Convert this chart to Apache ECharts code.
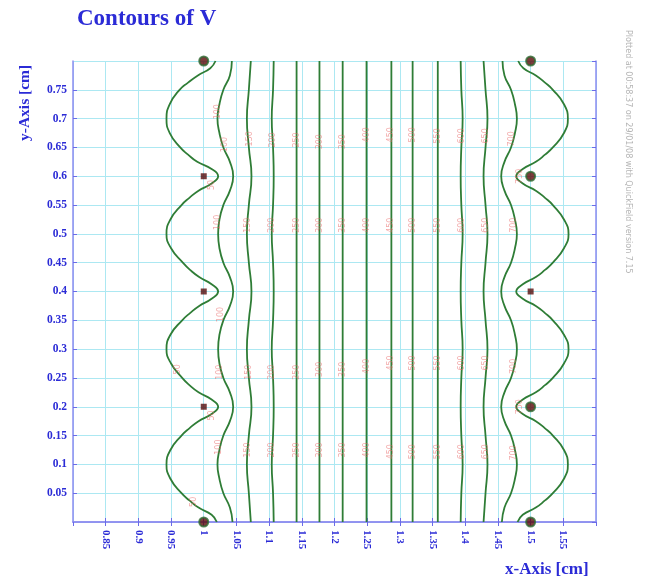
<!DOCTYPE html>
<html>
<head>
<meta charset="utf-8">
<script src="https://cdn.jsdelivr.net/npm/echarts@6/dist/echarts.min.js"></script>
<style>
  html, body { margin: 0; padding: 0; background: #ffffff; }
  #chart { width: 646px; height: 581px; }
</style>
</head>
<body>
<div id="chart"></div>
<script>
// Potential levels of the contour lines, left to right
const contourLevels = [50, 100, 150, 200, 250, 300, 350, 400, 450, 500, 550, 600, 650, 700, 750];

// Sample heights (cm) for the strongly curved outer contours
const yOuter = [
  0, 0.0125, 0.025, 0.0375, 0.05, 0.075, 0.1, 0.125, 0.15, 0.1625, 0.175, 0.1875,
  0.2, 0.2125, 0.225, 0.2375, 0.25, 0.275, 0.3, 0.325, 0.35, 0.3625, 0.375, 0.3875,
  0.4, 0.4125, 0.425, 0.4375, 0.45, 0.475, 0.5, 0.525, 0.55, 0.5625, 0.575, 0.5875,
  0.6, 0.6125, 0.625, 0.6375, 0.65, 0.675, 0.7, 0.725, 0.75, 0.7625, 0.775, 0.7875,
  0.8
];
const level50X = [
  1.020, 1.012, 0.992, 0.978, 0.966, 0.949, 0.943, 0.949, 0.966, 0.978, 0.992, 1.012,
  1.022, 1.012, 0.992, 0.978, 0.967, 0.950, 0.943, 0.949, 0.967, 0.979, 0.993, 1.012,
  1.022, 1.012, 0.993, 0.979, 0.968, 0.950, 0.943, 0.949, 0.966, 0.978, 0.992, 1.012,
  1.022, 1.012, 0.990, 0.976, 0.964, 0.948, 0.943, 0.948, 0.963, 0.976, 0.991, 1.010,
  1.018
];
const level750X = [
  1.480, 1.488, 1.508, 1.522, 1.534, 1.551, 1.557, 1.551, 1.534, 1.522, 1.508, 1.488,
  1.478, 1.488, 1.508, 1.522, 1.534, 1.551, 1.558, 1.551, 1.534, 1.522, 1.508, 1.488,
  1.478, 1.488, 1.508, 1.522, 1.534, 1.551, 1.558, 1.551, 1.534, 1.522, 1.508, 1.488,
  1.478, 1.488, 1.508, 1.522, 1.534, 1.551, 1.557, 1.551, 1.534, 1.522, 1.508, 1.489,
  1.481
];

// Sample heights for the gently waving inner contours
const yInner = [
  0, 0.025, 0.05, 0.075, 0.1, 0.125, 0.15, 0.175,
  0.2, 0.225, 0.25, 0.275, 0.3, 0.325, 0.35, 0.375,
  0.4, 0.425, 0.45, 0.475, 0.5, 0.525, 0.55, 0.575,
  0.6, 0.625, 0.65, 0.675, 0.7, 0.725, 0.75, 0.775,
  0.8
];
const level100X = [
  1.044, 1.040, 1.030, 1.024, 1.021, 1.024, 1.030, 1.040,
  1.045, 1.040, 1.030, 1.024, 1.022, 1.024, 1.030, 1.040,
  1.045, 1.040, 1.030, 1.024, 1.022, 1.024, 1.030, 1.040,
  1.045, 1.040, 1.030, 1.024, 1.021, 1.024, 1.030, 1.040,
  1.043
];
const level700X = [
  1.456, 1.460, 1.470, 1.476, 1.479, 1.476, 1.470, 1.460,
  1.455, 1.460, 1.470, 1.476, 1.479, 1.476, 1.470, 1.460,
  1.455, 1.460, 1.470, 1.476, 1.479, 1.476, 1.470, 1.460,
  1.455, 1.460, 1.470, 1.476, 1.479, 1.476, 1.470, 1.460,
  1.457
];

// Sample heights for the nearly straight contours
const yMid = [0, 0.05, 0.1, 0.15, 0.2, 0.25, 0.3, 0.35, 0.4, 0.45, 0.5, 0.55, 0.6, 0.65, 0.7, 0.75, 0.8];
const level150X = [1.072, 1.069, 1.066, 1.069, 1.073, 1.069, 1.066, 1.069, 1.073, 1.069, 1.066, 1.069, 1.073, 1.069, 1.066, 1.069, 1.072];
const level200X = [1.107, 1.106, 1.104, 1.106, 1.107, 1.106, 1.104, 1.106, 1.107, 1.106, 1.104, 1.106, 1.107, 1.106, 1.104, 1.106, 1.107];
const level600X = [1.393, 1.394, 1.396, 1.394, 1.393, 1.394, 1.396, 1.394, 1.393, 1.394, 1.396, 1.394, 1.393, 1.394, 1.396, 1.394, 1.393];
const level650X = [1.428, 1.431, 1.434, 1.431, 1.428, 1.431, 1.434, 1.431, 1.428, 1.431, 1.434, 1.431, 1.428, 1.431, 1.434, 1.431, 1.428];

// Straight contours (levels 250 ... 550)
const straightX = [1.142, 1.177, 1.2125, 1.249, 1.287, 1.3195, 1.358];
const yEnds = [0, 0.8];

// Electrode wires
const wireSquares = [[1, 0.2], [1, 0.4], [1, 0.6], [1.5, 0.4]];
const wireRings = [[1, 0], [1, 0.8], [1.5, 0], [1.5, 0.2], [1.5, 0.6], [1.5, 0.8]];

// Contour value labels along the lines
const labelLevels = [
  50, 50, 50, 50,
  100, 100, 100, 100, 100, 100,
  150, 150, 150, 150,
  200, 200, 200, 200,
  250, 250, 250, 250,
  300, 300, 300, 300,
  350, 350, 350, 350,
  400, 400, 400, 400,
  450, 450, 450, 450,
  500, 500, 500, 500,
  550, 550, 550, 550,
  600, 600, 600, 600,
  650, 650, 650, 650,
  700, 700, 700, 700,
  750, 750
];
const labelX = [
  0.960, 1.013, 1.013, 0.985,
  1.022, 1.032, 1.022, 1.027, 1.025, 1.023,
  1.070, 1.067, 1.069, 1.068,
  1.106, 1.105, 1.105, 1.105,
  1.142, 1.142, 1.142, 1.142,
  1.177, 1.177, 1.177, 1.177,
  1.2125, 1.2125, 1.2125, 1.2125,
  1.249, 1.249, 1.249, 1.249,
  1.287, 1.287, 1.287, 1.287,
  1.3195, 1.3195, 1.3195, 1.3195,
  1.358, 1.358, 1.358, 1.358,
  1.3945, 1.3945, 1.3945, 1.3945,
  1.432, 1.432, 1.432, 1.432,
  1.472, 1.475, 1.474, 1.474,
  1.484, 1.484
];
const labelY = [
  0.265, 0.585, 0.185, 0.035,
  0.712, 0.655, 0.52, 0.36, 0.26, 0.13,
  0.665, 0.515, 0.26, 0.125,
  0.663, 0.515, 0.26, 0.125,
  0.663, 0.515, 0.26, 0.125,
  0.660, 0.515, 0.265, 0.125,
  0.660, 0.515, 0.265, 0.125,
  0.672, 0.515, 0.27, 0.125,
  0.672, 0.515, 0.276, 0.122,
  0.672, 0.515, 0.276, 0.122,
  0.670, 0.515, 0.276, 0.122,
  0.670, 0.515, 0.276, 0.122,
  0.670, 0.515, 0.276, 0.122,
  0.665, 0.515, 0.27, 0.12,
  0.600, 0.200
];

const zip = (xs, ys) => xs.map((x, i) => [x, ys[i]]);

const contourPaths = [
  zip(level50X, yOuter),
  zip(level100X, yInner),
  zip(level150X, yMid),
  zip(level200X, yMid)
]
  .concat(straightX.map(x => yEnds.map(y => [x, y])))
  .concat([
    zip(level600X, yMid),
    zip(level650X, yMid),
    zip(level700X, yInner),
    zip(level750X, yOuter)
  ]);

const blue = '#2b2bd6';
const frame = '#8d8df0';
const serif = '"Liberation Serif", "DejaVu Serif", serif';
const fmt = v => String(parseFloat(v.toFixed(2)));

const contourSeries = contourPaths.map((pts, i) => ({
  name: 'V = ' + contourLevels[i],
  type: 'line',
  data: pts,
  smooth: 0.5,
  showSymbol: false,
  symbol: 'none',
  clip: true,
  z: 3,
  lineStyle: { color: '#2f7d36', width: 1.8 }
}));

const labelData = labelLevels.map((lv, i) => [labelX[i], labelY[i], lv]);

const chart = echarts.init(document.getElementById('chart'), null, { renderer: 'canvas' });

chart.setOption({
  backgroundColor: '#ffffff',
  animation: false,
  title: {
    text: 'Contours of V',
    left: 72,
    top: 3,
    textStyle: { color: blue, fontFamily: serif, fontWeight: 'bold', fontSize: 23 }
  },
  grid: { left: 73, right: 50, top: 61, bottom: 59, containLabel: false },
  xAxis: [
    {
      type: 'value', min: 0.8, max: 1.6, interval: 0.05, position: 'bottom',
      axisLine: { show: true, lineStyle: { color: frame, width: 1.5 } },
      axisTick: { show: true, inside: true, length: 4, lineStyle: { color: '#6b6be8' } },
      axisLabel: {
        rotate: -90, margin: 8, showMinLabel: false, showMaxLabel: false,
        formatter: fmt, color: blue, fontFamily: serif, fontWeight: 'bold', fontSize: 11
      },
      splitLine: { show: true, lineStyle: { color: '#ace8f2', width: 1 } }
    },
    {
      type: 'value', min: 0.8, max: 1.6, interval: 0.05, position: 'top',
      axisLine: { show: true, lineStyle: { color: frame, width: 1.5 } },
      axisTick: { show: true, inside: true, length: 4, lineStyle: { color: '#6b6be8' } },
      axisLabel: { show: false },
      splitLine: { show: false }
    }
  ],
  yAxis: [
    {
      type: 'value', min: 0, max: 0.8, interval: 0.05, position: 'left',
      axisLine: { show: true, lineStyle: { color: frame, width: 1.5 } },
      axisTick: { show: true, inside: true, length: 4, lineStyle: { color: '#6b6be8' } },
      axisLabel: {
        margin: 6, showMinLabel: false, showMaxLabel: false,
        formatter: fmt, color: blue, fontFamily: serif, fontWeight: 'bold', fontSize: 11.5
      },
      splitLine: { show: true, lineStyle: { color: '#ace8f2', width: 1 } }
    },
    {
      type: 'value', min: 0, max: 0.8, interval: 0.05, position: 'right',
      axisLine: { show: true, lineStyle: { color: frame, width: 1.5 } },
      axisTick: { show: true, inside: true, length: 4, lineStyle: { color: '#6b6be8' } },
      axisLabel: { show: false },
      splitLine: { show: false }
    }
  ],
  graphic: [
    {
      type: 'text', x: 25, y: 141, rotation: Math.PI / 2,
      style: { text: 'y-Axis [cm]', fill: blue, font: 'bold 15.5px ' + serif, textAlign: 'left', textVerticalAlign: 'middle' }
    },
    {
      type: 'text', x: 505, y: 570,
      style: { text: 'x-Axis [cm]', fill: blue, font: 'bold 17px ' + serif, textAlign: 'left', textVerticalAlign: 'middle' }
    },
    {
      type: 'text', x: 628, y: 30, rotation: -Math.PI / 2,
      style: { text: 'Plotted at 00:58:37 on 29/01/08 with QuickField version 7.15', fill: '#b5b5b5', font: '8px "DejaVu Sans", sans-serif', textAlign: 'left', textVerticalAlign: 'middle' }
    }
  ],
  series: contourSeries.concat([
    {
      name: 'labels',
      type: 'scatter',
      data: labelData,
      symbolSize: 0,
      z: 4,
      silent: true,
      label: {
        show: true, position: 'inside', rotate: 90,
        formatter: p => String(p.value[2]),
        color: 'rgba(232, 100, 100, 0.7)', fontSize: 8, fontFamily: '"DejaVu Sans", sans-serif'
      }
    },
    {
      name: 'wires',
      type: 'scatter',
      data: wireSquares,
      symbol: 'rect',
      symbolSize: 6,
      z: 5,
      itemStyle: { color: '#550c0c' }
    },
    {
      name: 'wires (ring)',
      type: 'scatter',
      data: wireRings,
      symbol: 'circle',
      symbolSize: 9,
      clip: false,
      z: 5,
      itemStyle: { color: '#5a0a0a', borderColor: '#2e6b32', borderWidth: 2 }
    }
  ])
});
</script>
</body>
</html>
